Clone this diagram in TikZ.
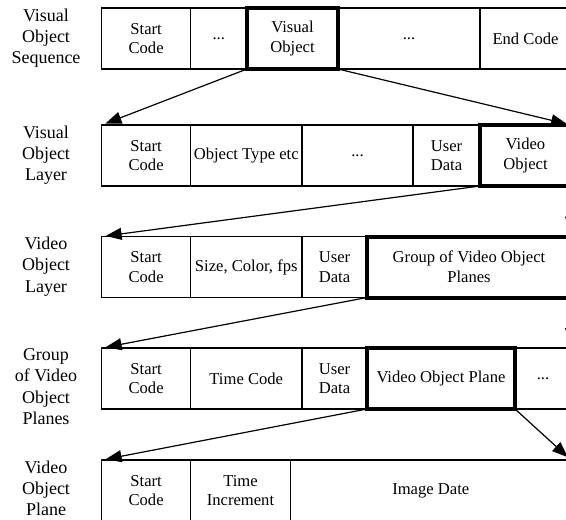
\documentclass[tikz,border=0pt]{standalone}
\usepackage{fontspec}
\setmainfont{Liberation Serif}
\usetikzlibrary{arrows.meta,positioning}

\begin{document}
\begin{tikzpicture}[
    x=1pt,
    y=-1pt,
    node distance=0pt,
    line width=1.2pt,
    cell node/.style={rectangle,draw,align=center,inner sep=1pt,outer sep=0pt,minimum height=61pt,font=\fontsize{16.6}{19.6}\selectfont},
    thick node/.style={cell node,line width=4pt},
    layer node/.style={align=center,inner sep=0pt,anchor=north,font=\fontsize{18}{21.3}\selectfont},
    link/.style={-{Triangle[length=16pt,width=12pt]},line width=1.2pt,shorten >=4pt,shorten <=1pt}
]
\useasboundingbox (0,0) rectangle (566,520);
\clip (0,0) rectangle (566,520);

% Visual Object Sequence
\node[layer node] (seq_label) at (46,8) {Visual\\Object\\Sequence};
\node[cell node, minimum width=88.8pt, anchor=north west] (seq_start) at (101.7,8) {Start\\Code};
\node[cell node, minimum width=56.5pt, right=of seq_start] (seq_dots1) {...};
\node[thick node, minimum width=91pt, right=of seq_dots1] (seq_vo) {Visual\\Object};
\node[cell node, minimum width=142pt, right=of seq_vo] (seq_dots2) {...};
\node[cell node, minimum width=91pt, right=of seq_dots2] (seq_end) {End Code};

% Visual Object Layer
\node[layer node] (vol_label) at (46,125) {Visual\\Object\\Layer};
\node[cell node, minimum width=88.8pt, anchor=north west] (vol_start) at (101.7,125) {Start\\Code};
\node[cell node, minimum width=111.5pt, right=of vol_start] (vol_type) {Object Type etc};
\node[cell node, minimum width=111pt, right=of vol_type] (vol_dots) {...};
\node[cell node, minimum width=67pt, right=of vol_dots] (vol_user) {User\\Data};
\node[thick node, minimum width=91pt, right=of vol_user] (vol_vo) {Video\\Object};

% Video Object Layer
\node[layer node] (vidl_label) at (46,236.5) {Video\\Object\\Layer};
\node[cell node, minimum width=88.8pt, anchor=north west] (vidl_start) at (101.7,236.5) {Start\\Code};
\node[cell node, minimum width=111.5pt, right=of vidl_start] (vidl_size) {Size, Color, fps};
\node[cell node, minimum width=65pt, right=of vidl_size] (vidl_user) {User\\Data};
\node[thick node, minimum width=204pt, right=of vidl_user] (vidl_gov) {Group of Video Object\\Planes};

% Group of Video Object Planes
\node[layer node] (gov_label) at (46,348) {Group\\of Video\\Object\\Planes};
\node[cell node, minimum width=88.8pt, anchor=north west] (gov_start) at (101.7,348) {Start\\Code};
\node[cell node, minimum width=111.5pt, right=of gov_start] (gov_time) {Time Code};
\node[cell node, minimum width=65pt, right=of gov_time] (gov_user) {User\\Data};
\node[thick node, minimum width=148pt, right=of gov_user] (gov_vop) {Video Object Plane};
\node[cell node, minimum width=56pt, right=of gov_vop] (gov_dots) {...};

% Video Object Plane
\node[layer node] (vop_label) at (46,460) {Video\\Object\\Plane};
\node[cell node, minimum width=88.8pt, anchor=north west] (vop_start) at (101.7,460) {Start\\Code};
\node[cell node, minimum width=100pt, right=of vop_start] (vop_incr) {Time\\Increment};
\node[cell node, minimum width=280.5pt, right=of vop_incr] (vop_image) {Image Date};

% Arrows
\draw[link] (seq_vo.south west) -- (vol_start.north west);
\draw[link] (seq_vo.south east) -- (vol_vo.north east);

\draw[link] (vol_vo.south west) -- (vidl_start.north west);
\draw[link] (vol_vo.south east) -- (vidl_gov.north east);

\draw[link] (vidl_gov.south west) -- (gov_start.north west);
\draw[link] (vidl_gov.south east) -- (gov_dots.north east);

\draw[link] (gov_vop.south west) -- (vop_start.north west);
\draw[link] (gov_vop.south east) -- (vop_image.north east);

\end{tikzpicture}
\end{document}
